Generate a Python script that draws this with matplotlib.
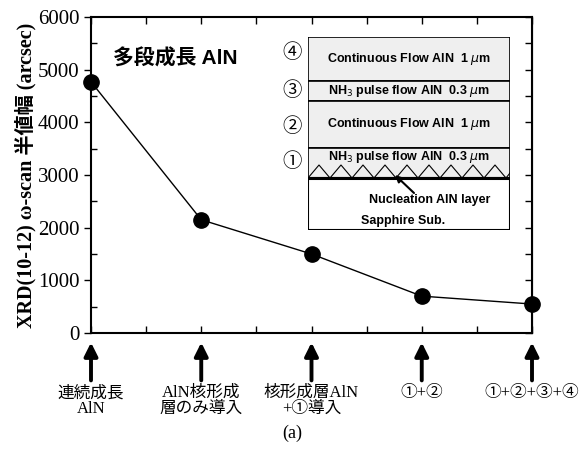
import matplotlib.pyplot as plt
from matplotlib.patches import Rectangle
from matplotlib.ticker import MultipleLocator

# data
positions = [0, 2, 4, 6, 8]
fwhm = [4770, 2150, 1500, 700, 550]
cat_labels = ['連続成長\nAlN', 'AlN核形成\n層のみ導入', '核形成層AlN\n+①導入', '①+②', '①+②+③+④']

# inset layer stack (top to bottom), heights in inset units
layer_names = ['Continuous Flow AlN  1 $\\mu$m', 'NH$_3$ pulse flow AlN  0.3 $\\mu$m',
               'Continuous Flow AlN  1 $\\mu$m', 'NH$_3$ pulse flow AlN  0.3 $\\mu$m']
layer_marks = ['④', '③', '②', '①']
layer_edges = [0, 44, 64, 111, 141]

serif = ['Liberation Serif', 'Noto Sans CJK JP']
sans_b = ['Liberation Sans', 'Noto Sans CJK JP']

fig = plt.figure(figsize=(5.85, 4.51), dpi=100)
ax = fig.add_axes([91/585, 1-333/451, 441/585, 316/451])

ax.plot(positions, fwhm, color='k', lw=1, marker='o', ms=11, mfc='k', mec='k', clip_on=False, zorder=5)
ax.set_xlim(0, 8)
ax.set_ylim(0, 6000)
ax.set_yticks(range(0, 6001, 1000))
ax.yaxis.set_minor_locator(MultipleLocator(500))
ax.set_xticks(range(0, 9))
ax.set_xticklabels([])
ax.tick_params(axis='x', direction='in', length=5, width=1, top=True)
ax.tick_params(axis='y', which='major', direction='out', length=5, width=1)
ax.tick_params(axis='y', which='minor', direction='in', length=4, width=1)
for lab in ax.get_yticklabels():
    lab.set_family(serif)
    lab.set_fontsize(15)
for sp in ax.spines.values():
    sp.set_linewidth(1.5)

right = ax.secondary_yaxis('right')
right.set_yticks(range(0, 6001, 500))
right.set_yticklabels([])
right.tick_params(direction='in', length=5, width=1)

ax.set_ylabel('XRD(10-12) ω-scan 半値幅 (arcsec)', family=serif, fontweight='bold',
              fontsize=14.5, labelpad=1)

ax.text(0.05, 0.87, '多段成長 AlN', transform=ax.transAxes, family=sans_b,
        fontweight='bold', fontsize=15, va='center')

# arrows and category labels below the axis
trans = ax.get_xaxis_transform()
for x, lab in zip(positions, cat_labels):
    ax.annotate('', xy=(x, -0.03), xytext=(x, -0.15), xycoords=trans, textcoords=trans,
                arrowprops=dict(arrowstyle='-|>', lw=2.8, mutation_scale=20, color='k',
                                shrinkA=0, shrinkB=0), annotation_clip=False)
    ax.text(x, -0.165, lab, transform=trans, ha='center', va='top', family=serif,
            fontsize=12, linespacing=1.0)

fig.text(0.5, 0.04, '(a)', ha='center', va='center', family=serif, fontsize=13)

# layer structure inset
ins = fig.add_axes([308/585, 1-230/451, 202/585, 193/451])
ins.set_xlim(0, 202)
ins.set_ylim(193, 0)
ins.axis('off')
for i, name in enumerate(layer_names):
    y0, y1 = layer_edges[i], layer_edges[i+1]
    ins.add_patch(Rectangle((0, y0), 202, y1 - y0, facecolor='#efefef', edgecolor='k', lw=1.2))
    ty = (y0 + y1) / 2 if i < 3 else y0 + 9
    ins.text(101, ty, name, ha='center', va='center', family=sans_b, fontweight='bold', fontsize=9)
    fig.text(292/585, 1 - (37 + [16, 54, 90, 125][i])/451, layer_marks[i],
             ha='center', va='center', family=sans_b, fontsize=14)
ins.add_patch(Rectangle((0, 141), 202, 52, facecolor='white', edgecolor='k', lw=1.5))
zx = [0, 11, 22, 33, 44, 55, 66, 77, 88, 99, 110, 121, 132, 143, 154, 165, 176, 187, 198, 202]
zy = [141, 128, 141, 128, 141, 128, 141, 128, 141, 128, 141, 128, 141, 128, 141, 128, 141, 128, 141, 136]
ins.plot(zx, zy, color='k', lw=0.8)
ins.plot([0, 202], [141, 141], color='k', lw=2.2)
ins.annotate('', xy=(87, 138), xytext=(106, 156),
             arrowprops=dict(arrowstyle='-|>', lw=1.5, mutation_scale=10, color='k',
                             shrinkA=0, shrinkB=0))
ins.text(122, 163, 'Nucleation AlN layer', ha='center', va='center', family=sans_b,
         fontweight='bold', fontsize=9)
ins.text(95, 184, 'Sapphire Sub.', ha='center', va='center', family=sans_b,
         fontweight='bold', fontsize=9)

fig.savefig('out.png', dpi=100)
